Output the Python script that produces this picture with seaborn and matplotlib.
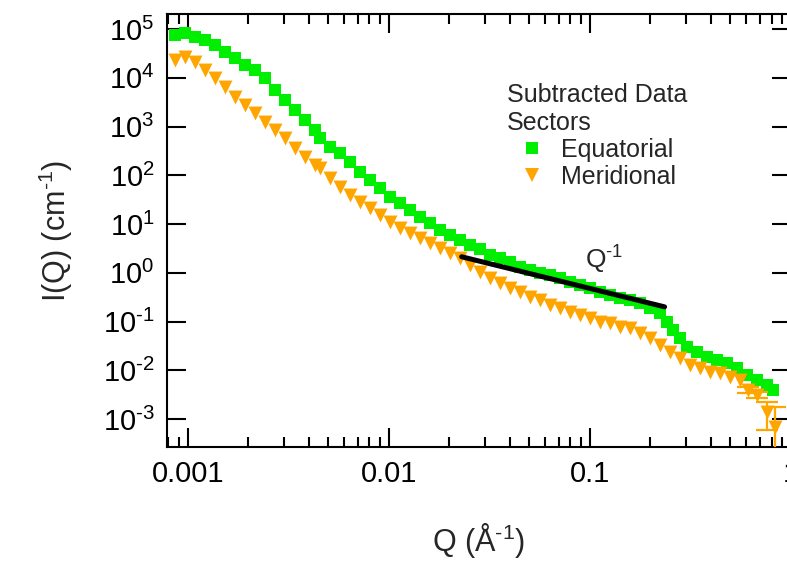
import numpy as np
import pandas as pd
import seaborn as sns
import matplotlib.pyplot as plt
from matplotlib.lines import Line2D
from matplotlib.ticker import FixedLocator, FixedFormatter, LogLocator, NullLocator, NullFormatter

# Equatorial sector (green squares)
q_eq = [0.000859, 0.000963, 0.00108, 0.00121, 0.001358, 0.001523, 0.001707, 0.001915,
        0.002147, 0.002407, 0.002699, 0.003027, 0.003395, 0.003806, 0.004268, 0.004519,
        0.00507, 0.005685, 0.006375, 0.007148, 0.008015, 0.008988, 0.01008, 0.0113,
        0.01268, 0.01421, 0.01594, 0.01788, 0.02004, 0.02247, 0.0252, 0.02826,
        0.0317, 0.03554, 0.03986, 0.04469, 0.05012, 0.0562, 0.06301, 0.07066,
        0.07925, 0.08887, 0.0997, 0.1117, 0.1253, 0.1405, 0.1576, 0.1767,
        0.1982, 0.2222, 0.2406, 0.2578, 0.2794, 0.3027, 0.3395, 0.3806,
        0.4268, 0.4786, 0.537, 0.6019, 0.6752, 0.757, 0.811]
i_eq = [75300, 82800, 68500, 59400, 46900, 33800, 25400, 18300,
        14400, 9890, 5610, 3500, 2180, 1360, 847, 581,
        379, 286, 187, 117, 80.0, 54.7, 35.8, 27.0,
        19.4, 13.9, 10.5, 7.54, 5.94, 4.70, 3.71, 3.07,
        2.31, 2.01, 1.66, 1.31, 1.14, 0.989, 0.900, 0.780,
        0.646, 0.561, 0.487, 0.403, 0.350, 0.303, 0.276, 0.240,
        0.189, 0.149, 0.0977, 0.0670, 0.0459, 0.0300, 0.0237, 0.0187,
        0.0162, 0.0141, 0.0111, 0.0080, 0.0063, 0.00498, 0.00394]

# Meridional sector (orange triangles)
q_mer = [0.000859, 0.000963, 0.00108, 0.00121, 0.001358, 0.001523, 0.001707, 0.001915,
         0.002147, 0.002407, 0.002699, 0.003027, 0.003395, 0.003806, 0.004268, 0.004519,
         0.00507, 0.005685, 0.006375, 0.007148, 0.008015, 0.008988, 0.01008, 0.0113,
         0.01268, 0.01421, 0.01594, 0.01788, 0.02004, 0.02247, 0.0252, 0.02826,
         0.0317, 0.03554, 0.03986, 0.04469, 0.05012, 0.0562, 0.06301, 0.07066,
         0.07925, 0.08887, 0.0997, 0.1117, 0.1253, 0.1405, 0.1576, 0.1767,
         0.1982, 0.2222, 0.2491, 0.2794, 0.3133, 0.3514, 0.3939, 0.4418,
         0.4955, 0.5556, 0.609, 0.6752, 0.757, 0.8296]
i_mer = [23100, 26700, 21000, 14400, 9890, 6460, 4030, 2760,
         1890, 1240, 847, 581, 362, 237, 162, 141,
         87.9, 57.4, 39.4, 28.3, 21.3, 15.3, 11.0, 8.28,
         6.53, 5.16, 4.07, 3.22, 2.54, 2.01, 1.44, 1.04,
         0.780, 0.617, 0.487, 0.403, 0.318, 0.276, 0.218, 0.189,
         0.157, 0.136, 0.118, 0.0977, 0.0931, 0.0771, 0.0736, 0.0581,
         0.0459, 0.0330, 0.0237, 0.0178, 0.0128, 0.0111, 0.0092, 0.0088,
         0.00728, 0.0063, 0.00394, 0.00311, 0.00139, 0.000686]
# error bars on the last meridional points
mer_err = [0.0005, 0.0004, 0.0008, 0.0011]

# Q^-1 guide line
fit_q = [0.023, 0.235]
fit_i = [2.13, 0.20]

x_ticks = [0.001, 0.01, 0.1, 1]
x_labels = ["0.001", "0.01", "0.1", "1"]
y_ticks = [1e-3, 1e-2, 1e-1, 1e0, 1e1, 1e2, 1e3, 1e4, 1e5]
y_labels = [r"$\mathregular{10^{%s}}$" % str(p).replace("-", "\u2010") for p in range(-3, 6)]

green = "#00ee00"
orange = "#ffa500"

sns.set_style("ticks")
plt.rcParams["font.family"] = ["Liberation Sans", "DejaVu Sans"]

fig = plt.figure(figsize=(7.87, 5.61), dpi=100)
ax = fig.add_axes([167 / 787, 1 - 447 / 561, 624 / 787, 433 / 561])

eq_df = pd.DataFrame({"q": q_eq, "intensity": i_eq})
mer_df = pd.DataFrame({"q": q_mer, "intensity": i_mer})

sns.scatterplot(data=eq_df, x="q", y="intensity", ax=ax, marker="s", color=green,
                s=68, linewidth=0, legend=False, zorder=3)
ax.errorbar(q_mer[-4:], i_mer[-4:], yerr=mer_err, fmt="none", ecolor=orange,
            elinewidth=1.6, capsize=8, capthick=1.6, zorder=3)
sns.scatterplot(data=mer_df, x="q", y="intensity", ax=ax, marker="v", color=orange,
                s=100, linewidth=0, legend=False, zorder=4)
sns.lineplot(x=fit_q, y=fit_i, ax=ax, color="black", linewidth=3.6, zorder=5)

ax.set_xscale("log")
ax.set_yscale("log")
ax.set_xlim(0.000787, 1.0)
ax.set_ylim(0.000267, 2.03e5)

ax.xaxis.set_major_locator(FixedLocator(x_ticks))
ax.xaxis.set_major_formatter(FixedFormatter(x_labels))
ax.xaxis.set_minor_locator(LogLocator(base=10, subs=np.arange(2, 10)))
ax.xaxis.set_minor_formatter(NullFormatter())
ax.yaxis.set_major_locator(FixedLocator(y_ticks))
ax.yaxis.set_major_formatter(FixedFormatter(y_labels))
ax.yaxis.set_minor_locator(NullLocator())

ax.tick_params(which="both", direction="in", top=True, right=True, colors="black")
ax.tick_params(which="major", length=14, width=1.5, labelsize=21, pad=9)
ax.tick_params(which="minor", length=7, width=1.5)
for sp in ax.spines.values():
    sp.set_linewidth(1.5)
    sp.set_color("black")

ax.set_xlabel("Q (Å$^{\\mathregular{\u20101}}$)", fontsize=22)
ax.set_ylabel("I(Q) (cm$^{\\mathregular{\u20101}}$)", fontsize=22)
ax.xaxis.set_label_coords(0.5, -0.17)
ax.yaxis.set_label_coords(-0.148, 0.5)

ax.text(0.0941, 1.25, "Q$^{\\mathregular{\u20101}}$", fontsize=19, ha="left", va="baseline")

handles = [
    Line2D([], [], linestyle="none", marker="s", color=green, markersize=8.5, markeredgewidth=0),
    Line2D([], [], linestyle="none", marker="v", color=orange, markersize=10.5, markeredgewidth=0),
]
leg = ax.legend(handles, ["Equatorial", "Meridional"], title="Subtracted Data\nSectors",
                loc="upper left", bbox_to_anchor=(0.545, 0.84), frameon=False,
                fontsize=18, title_fontsize=18, handlelength=2.0, handletextpad=0.15,
                labelspacing=0.12, borderpad=0, borderaxespad=0)
leg._legend_box.align = "left"

fig.savefig("out.png", dpi=100)
